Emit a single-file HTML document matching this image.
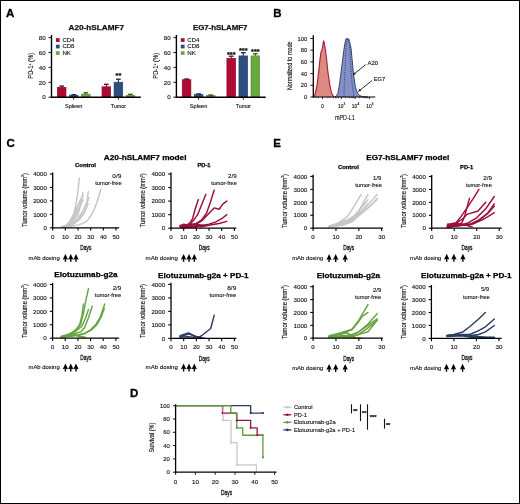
<!DOCTYPE html>
<html><head><meta charset="utf-8"><style>
html,body{margin:0;padding:0;background:#fff;}
svg{display:block;font-family:"Liberation Sans", sans-serif;will-change:transform;}
</style></head><body>
<svg width="520" height="504" viewBox="0 0 520 504">
<rect x="0" y="0" width="520" height="504" fill="#fff"/>
<text x="68.60" y="30.10" font-size="8" text-anchor="start" fill="#111" font-weight="bold" stroke="#111" stroke-width="0.25" textLength="55.40" lengthAdjust="spacingAndGlyphs" >A20-hSLAMF7</text>
<line x1="48.50" y1="97.20" x2="51.50" y2="97.20" stroke="#000" stroke-width="0.9" />
<text x="45.70" y="99.40" font-size="6.2" text-anchor="end" fill="#111" stroke="#111" stroke-width="0.12" >0</text>
<line x1="48.50" y1="82.30" x2="51.50" y2="82.30" stroke="#000" stroke-width="0.9" />
<text x="45.70" y="84.50" font-size="6.2" text-anchor="end" fill="#111" stroke="#111" stroke-width="0.12" >20</text>
<line x1="48.50" y1="67.40" x2="51.50" y2="67.40" stroke="#000" stroke-width="0.9" />
<text x="45.70" y="69.60" font-size="6.2" text-anchor="end" fill="#111" stroke="#111" stroke-width="0.12" >40</text>
<line x1="48.50" y1="52.50" x2="51.50" y2="52.50" stroke="#000" stroke-width="0.9" />
<text x="45.70" y="54.70" font-size="6.2" text-anchor="end" fill="#111" stroke="#111" stroke-width="0.12" >60</text>
<line x1="48.50" y1="37.60" x2="51.50" y2="37.60" stroke="#000" stroke-width="0.9" />
<text x="45.70" y="39.80" font-size="6.2" text-anchor="end" fill="#111" stroke="#111" stroke-width="0.12" >80</text>
<text x="32.90" y="65.80" font-size="6.5" text-anchor="middle" fill="#111" stroke="#111" stroke-width="0.12" textLength="25.80" lengthAdjust="spacingAndGlyphs" transform="rotate(-90 32.90 65.80)" >PD-1<tspan font-size="4" dy="-2.3">+</tspan><tspan dy="2.3"> (%)</tspan></text>
<rect x="55.90" y="38.20" width="3.8" height="3.7" fill="#ad0a35"/>
<text x="62.40" y="41.80" font-size="5.6" text-anchor="start" fill="#111" stroke="#111" stroke-width="0.12" textLength="12.10" lengthAdjust="spacingAndGlyphs" >CD4</text>
<rect x="55.90" y="44.70" width="3.8" height="3.7" fill="#2f4d80"/>
<text x="62.40" y="48.30" font-size="5.6" text-anchor="start" fill="#111" stroke="#111" stroke-width="0.12" textLength="12.10" lengthAdjust="spacingAndGlyphs" >CD8</text>
<rect x="55.90" y="51.20" width="3.8" height="3.7" fill="#6aa83e"/>
<text x="62.40" y="54.80" font-size="5.6" text-anchor="start" fill="#111" stroke="#111" stroke-width="0.12" textLength="8.60" lengthAdjust="spacingAndGlyphs" >NK</text>
<line x1="73.70" y1="97.20" x2="73.70" y2="99.60" stroke="#000" stroke-width="0.9" />
<text x="73.70" y="108.10" font-size="5.6" text-anchor="middle" fill="#111" stroke="#111" stroke-width="0.12" textLength="17.50" lengthAdjust="spacingAndGlyphs" >Spleen</text>
<rect x="57.30" y="87.30" width="8.7" height="9.90" fill="#ad0a35" stroke="#8a0628" stroke-width="0.6"/>
<line x1="61.65" y1="87.30" x2="61.65" y2="86.10" stroke="#5a0418" stroke-width="1.0" />
<line x1="59.30" y1="86.10" x2="64.00" y2="86.10" stroke="#5a0418" stroke-width="1.3" />
<rect x="69.35" y="95.20" width="8.7" height="2.00" fill="#2f4d80" stroke="#22396a" stroke-width="0.6"/>
<line x1="73.70" y1="95.20" x2="73.70" y2="94.70" stroke="#14223e" stroke-width="1.0" />
<line x1="71.35" y1="94.70" x2="76.05" y2="94.70" stroke="#14223e" stroke-width="1.3" />
<rect x="81.40" y="94.20" width="8.7" height="3.00" fill="#6aa83e" stroke="#4f8a2e" stroke-width="0.6"/>
<line x1="85.75" y1="94.20" x2="85.75" y2="92.80" stroke="#2e5418" stroke-width="1.0" />
<line x1="83.40" y1="92.80" x2="88.10" y2="92.80" stroke="#2e5418" stroke-width="1.3" />
<line x1="118.40" y1="97.20" x2="118.40" y2="99.60" stroke="#000" stroke-width="0.9" />
<text x="118.40" y="108.10" font-size="5.6" text-anchor="middle" fill="#111" stroke="#111" stroke-width="0.12" textLength="15.10" lengthAdjust="spacingAndGlyphs" >Tumor</text>
<rect x="102.00" y="86.80" width="8.7" height="10.40" fill="#ad0a35" stroke="#8a0628" stroke-width="0.6"/>
<line x1="106.35" y1="86.80" x2="106.35" y2="84.30" stroke="#5a0418" stroke-width="1.0" />
<line x1="104.00" y1="84.30" x2="108.70" y2="84.30" stroke="#5a0418" stroke-width="1.3" />
<rect x="114.05" y="82.20" width="8.7" height="15.00" fill="#2f4d80" stroke="#22396a" stroke-width="0.6"/>
<line x1="118.40" y1="82.20" x2="118.40" y2="79.20" stroke="#14223e" stroke-width="1.0" />
<line x1="116.05" y1="79.20" x2="120.75" y2="79.20" stroke="#14223e" stroke-width="1.3" />
<text x="118.40" y="78.30" font-size="7.4" text-anchor="middle" fill="#111" font-weight="bold" stroke="#111" stroke-width="0.25" >**</text>
<rect x="126.10" y="95.30" width="8.7" height="1.90" fill="#6aa83e" stroke="#4f8a2e" stroke-width="0.6"/>
<line x1="130.45" y1="95.30" x2="130.45" y2="94.30" stroke="#2e5418" stroke-width="1.0" />
<line x1="128.10" y1="94.30" x2="132.80" y2="94.30" stroke="#2e5418" stroke-width="1.3" />
<line x1="51.50" y1="35.00" x2="51.50" y2="97.90" stroke="#000" stroke-width="1.4" />
<line x1="50.80" y1="97.20" x2="140.80" y2="97.20" stroke="#000" stroke-width="1.4" />
<text x="192.90" y="30.10" font-size="8" text-anchor="start" fill="#111" font-weight="bold" stroke="#111" stroke-width="0.25" textLength="54.60" lengthAdjust="spacingAndGlyphs" >EG7-hSLAMF7</text>
<line x1="173.40" y1="97.20" x2="176.40" y2="97.20" stroke="#000" stroke-width="0.9" />
<text x="170.60" y="99.40" font-size="6.2" text-anchor="end" fill="#111" stroke="#111" stroke-width="0.12" >0</text>
<line x1="173.40" y1="82.30" x2="176.40" y2="82.30" stroke="#000" stroke-width="0.9" />
<text x="170.60" y="84.50" font-size="6.2" text-anchor="end" fill="#111" stroke="#111" stroke-width="0.12" >20</text>
<line x1="173.40" y1="67.40" x2="176.40" y2="67.40" stroke="#000" stroke-width="0.9" />
<text x="170.60" y="69.60" font-size="6.2" text-anchor="end" fill="#111" stroke="#111" stroke-width="0.12" >40</text>
<line x1="173.40" y1="52.50" x2="176.40" y2="52.50" stroke="#000" stroke-width="0.9" />
<text x="170.60" y="54.70" font-size="6.2" text-anchor="end" fill="#111" stroke="#111" stroke-width="0.12" >60</text>
<line x1="173.40" y1="37.60" x2="176.40" y2="37.60" stroke="#000" stroke-width="0.9" />
<text x="170.60" y="39.80" font-size="6.2" text-anchor="end" fill="#111" stroke="#111" stroke-width="0.12" >80</text>
<text x="157.80" y="65.80" font-size="6.5" text-anchor="middle" fill="#111" stroke="#111" stroke-width="0.12" textLength="25.80" lengthAdjust="spacingAndGlyphs" transform="rotate(-90 157.80 65.80)" >PD-1<tspan font-size="4" dy="-2.3">+</tspan><tspan dy="2.3"> (%)</tspan></text>
<rect x="180.80" y="38.20" width="3.8" height="3.7" fill="#ad0a35"/>
<text x="187.30" y="41.80" font-size="5.6" text-anchor="start" fill="#111" stroke="#111" stroke-width="0.12" textLength="12.10" lengthAdjust="spacingAndGlyphs" >CD4</text>
<rect x="180.80" y="44.70" width="3.8" height="3.7" fill="#2f4d80"/>
<text x="187.30" y="48.30" font-size="5.6" text-anchor="start" fill="#111" stroke="#111" stroke-width="0.12" textLength="12.10" lengthAdjust="spacingAndGlyphs" >CD8</text>
<rect x="180.80" y="51.20" width="3.8" height="3.7" fill="#6aa83e"/>
<text x="187.30" y="54.80" font-size="5.6" text-anchor="start" fill="#111" stroke="#111" stroke-width="0.12" textLength="8.60" lengthAdjust="spacingAndGlyphs" >NK</text>
<line x1="198.60" y1="97.20" x2="198.60" y2="99.60" stroke="#000" stroke-width="0.9" />
<text x="198.60" y="108.10" font-size="5.6" text-anchor="middle" fill="#111" stroke="#111" stroke-width="0.12" textLength="17.50" lengthAdjust="spacingAndGlyphs" >Spleen</text>
<rect x="182.20" y="79.70" width="8.7" height="17.50" fill="#ad0a35" stroke="#8a0628" stroke-width="0.6"/>
<line x1="186.55" y1="79.70" x2="186.55" y2="79.00" stroke="#5a0418" stroke-width="1.0" />
<line x1="184.20" y1="79.00" x2="188.90" y2="79.00" stroke="#5a0418" stroke-width="1.3" />
<rect x="194.25" y="94.40" width="8.7" height="2.80" fill="#2f4d80" stroke="#22396a" stroke-width="0.6"/>
<line x1="198.60" y1="94.40" x2="198.60" y2="93.90" stroke="#14223e" stroke-width="1.0" />
<line x1="196.25" y1="93.90" x2="200.95" y2="93.90" stroke="#14223e" stroke-width="1.3" />
<rect x="206.30" y="95.40" width="8.7" height="1.80" fill="#6aa83e" stroke="#4f8a2e" stroke-width="0.6"/>
<line x1="210.65" y1="95.40" x2="210.65" y2="95.00" stroke="#2e5418" stroke-width="1.0" />
<line x1="208.30" y1="95.00" x2="213.00" y2="95.00" stroke="#2e5418" stroke-width="1.3" />
<line x1="243.30" y1="97.20" x2="243.30" y2="99.60" stroke="#000" stroke-width="0.9" />
<text x="243.30" y="108.10" font-size="5.6" text-anchor="middle" fill="#111" stroke="#111" stroke-width="0.12" textLength="15.10" lengthAdjust="spacingAndGlyphs" >Tumor</text>
<rect x="226.90" y="58.30" width="8.7" height="38.90" fill="#ad0a35" stroke="#8a0628" stroke-width="0.6"/>
<line x1="231.25" y1="58.30" x2="231.25" y2="56.20" stroke="#5a0418" stroke-width="1.0" />
<line x1="228.90" y1="56.20" x2="233.60" y2="56.20" stroke="#5a0418" stroke-width="1.3" />
<text x="231.25" y="57.30" font-size="7.4" text-anchor="middle" fill="#111" font-weight="bold" stroke="#111" stroke-width="0.25" >***</text>
<rect x="238.95" y="55.90" width="8.7" height="41.30" fill="#2f4d80" stroke="#22396a" stroke-width="0.6"/>
<line x1="243.30" y1="55.90" x2="243.30" y2="52.70" stroke="#14223e" stroke-width="1.0" />
<line x1="240.95" y1="52.70" x2="245.65" y2="52.70" stroke="#14223e" stroke-width="1.3" />
<text x="243.30" y="53.00" font-size="7.4" text-anchor="middle" fill="#111" font-weight="bold" stroke="#111" stroke-width="0.25" >***</text>
<rect x="251.00" y="55.90" width="8.7" height="41.30" fill="#6aa83e" stroke="#4f8a2e" stroke-width="0.6"/>
<line x1="255.35" y1="55.90" x2="255.35" y2="53.80" stroke="#2e5418" stroke-width="1.0" />
<line x1="253.00" y1="53.80" x2="257.70" y2="53.80" stroke="#2e5418" stroke-width="1.3" />
<text x="255.35" y="54.30" font-size="7.4" text-anchor="middle" fill="#111" font-weight="bold" stroke="#111" stroke-width="0.25" >***</text>
<line x1="176.40" y1="35.00" x2="176.40" y2="97.90" stroke="#000" stroke-width="1.4" />
<line x1="175.70" y1="97.20" x2="265.70" y2="97.20" stroke="#000" stroke-width="1.4" />
<path d="M314.30,97.00 L315.80,91.10 L317.10,84.80 L318.60,72.10 L320.00,59.40 L321.00,52.00 L321.80,50.50 L322.60,47.00 L323.20,42.50 L323.70,40.80 L324.20,43.00 L324.60,44.50 L325.10,48.00 L325.60,51.00 L326.60,59.40 L327.90,72.10 L329.80,84.80 L331.00,91.10 L332.50,95.00 L334.20,97.00 Z" fill="#dd8a80" stroke="none"/>
<path d="M314.30,97.00 L315.80,91.10 L317.10,84.80 L318.60,72.10 L320.00,59.40 L321.00,52.00 L321.80,50.50 L322.60,47.00 L323.20,42.50 L323.70,40.80 L324.20,43.00 L324.60,44.50 L325.10,48.00 L325.60,51.00 L326.60,59.40 L327.90,72.10 L329.80,84.80 L331.00,91.10 L332.50,95.00 L334.20,97.00" fill="none" stroke="#a8183a" stroke-width="1.1" stroke-linejoin="round"/>
<path d="M335.00,97.00 L336.50,95.50 L337.90,93.30 L339.20,86.40 L340.90,73.30 L342.60,60.20 L344.00,49.00 L344.80,44.00 L345.50,40.50 L346.20,38.60 L346.90,39.60 L347.50,38.30 L348.20,39.40 L348.80,38.80 L349.50,41.50 L350.30,45.00 L351.00,48.00 L352.20,60.20 L353.40,73.30 L355.30,86.40 L356.50,90.50 L357.80,93.50 L359.50,95.50 L362.50,96.50 L368.00,97.00 Z" fill="#8590c6" stroke="none"/>
<path d="M335.00,97.00 L336.50,95.50 L337.90,93.30 L339.20,86.40 L340.90,73.30 L342.60,60.20 L344.00,49.00 L344.80,44.00 L345.50,40.50 L346.20,38.60 L346.90,39.60 L347.50,38.30 L348.20,39.40 L348.80,38.80 L349.50,41.50 L350.30,45.00 L351.00,48.00 L352.20,60.20 L353.40,73.30 L355.30,86.40 L356.50,90.50 L357.80,93.50 L359.50,95.50 L362.50,96.50 L368.00,97.00" fill="none" stroke="#26356a" stroke-width="0.9" stroke-linejoin="round"/>
<path d="M343.80,97.00 L344.00,93.70 L344.30,84.80 L344.90,72.10 L345.50,59.40 L346.20,46.70 L347.00,41.00 L348.00,40.00 L349.00,42.00 L349.70,46.70 L350.20,59.40 L351.00,72.10 L352.30,84.80 L353.50,93.70 L354.00,97.00" fill="none" stroke="#26356a" stroke-width="0.9" stroke-dasharray="1.1,1.3"/>
<line x1="313.30" y1="35.20" x2="313.30" y2="97.60" stroke="#000" stroke-width="1.3" />
<line x1="312.70" y1="97.00" x2="375.30" y2="97.00" stroke="#000" stroke-width="1.2" />
<line x1="310.40" y1="97.00" x2="313.30" y2="97.00" stroke="#000" stroke-width="0.9" />
<text x="307.20" y="99.10" font-size="5.8" text-anchor="end" fill="#111" stroke="#111" stroke-width="0.12" >0</text>
<line x1="310.40" y1="85.30" x2="313.30" y2="85.30" stroke="#000" stroke-width="0.9" />
<text x="307.20" y="87.40" font-size="5.8" text-anchor="end" fill="#111" stroke="#111" stroke-width="0.12" >20</text>
<line x1="310.40" y1="73.60" x2="313.30" y2="73.60" stroke="#000" stroke-width="0.9" />
<text x="307.20" y="75.70" font-size="5.8" text-anchor="end" fill="#111" stroke="#111" stroke-width="0.12" >40</text>
<line x1="310.40" y1="61.90" x2="313.30" y2="61.90" stroke="#000" stroke-width="0.9" />
<text x="307.20" y="64.00" font-size="5.8" text-anchor="end" fill="#111" stroke="#111" stroke-width="0.12" >60</text>
<line x1="310.40" y1="50.20" x2="313.30" y2="50.20" stroke="#000" stroke-width="0.9" />
<text x="307.20" y="52.30" font-size="5.8" text-anchor="end" fill="#111" stroke="#111" stroke-width="0.12" >80</text>
<line x1="310.40" y1="38.50" x2="313.30" y2="38.50" stroke="#000" stroke-width="0.9" />
<text x="307.20" y="40.60" font-size="5.8" text-anchor="end" fill="#111" stroke="#111" stroke-width="0.12" >100</text>
<line x1="322.60" y1="97.00" x2="322.60" y2="99.00" stroke="#000" stroke-width="0.8" />
<line x1="341.40" y1="97.00" x2="341.40" y2="99.00" stroke="#000" stroke-width="0.8" />
<line x1="355.20" y1="97.00" x2="355.20" y2="99.00" stroke="#000" stroke-width="0.8" />
<line x1="369.60" y1="97.00" x2="369.60" y2="99.00" stroke="#000" stroke-width="0.8" />
<line x1="316.50" y1="97.00" x2="316.50" y2="98.20" stroke="#000" stroke-width="0.6" />
<line x1="318.50" y1="97.00" x2="318.50" y2="98.20" stroke="#000" stroke-width="0.6" />
<line x1="327.00" y1="97.00" x2="327.00" y2="98.20" stroke="#000" stroke-width="0.6" />
<line x1="329.00" y1="97.00" x2="329.00" y2="98.20" stroke="#000" stroke-width="0.6" />
<line x1="333.50" y1="97.00" x2="333.50" y2="98.20" stroke="#000" stroke-width="0.6" />
<line x1="335.50" y1="97.00" x2="335.50" y2="98.20" stroke="#000" stroke-width="0.6" />
<line x1="337.00" y1="97.00" x2="337.00" y2="98.20" stroke="#000" stroke-width="0.6" />
<line x1="338.50" y1="97.00" x2="338.50" y2="98.20" stroke="#000" stroke-width="0.6" />
<line x1="345.50" y1="97.00" x2="345.50" y2="98.20" stroke="#000" stroke-width="0.6" />
<line x1="347.80" y1="97.00" x2="347.80" y2="98.20" stroke="#000" stroke-width="0.6" />
<line x1="349.50" y1="97.00" x2="349.50" y2="98.20" stroke="#000" stroke-width="0.6" />
<line x1="351.00" y1="97.00" x2="351.00" y2="98.20" stroke="#000" stroke-width="0.6" />
<line x1="352.30" y1="97.00" x2="352.30" y2="98.20" stroke="#000" stroke-width="0.6" />
<line x1="353.50" y1="97.00" x2="353.50" y2="98.20" stroke="#000" stroke-width="0.6" />
<line x1="359.50" y1="97.00" x2="359.50" y2="98.20" stroke="#000" stroke-width="0.6" />
<line x1="362.00" y1="97.00" x2="362.00" y2="98.20" stroke="#000" stroke-width="0.6" />
<line x1="364.00" y1="97.00" x2="364.00" y2="98.20" stroke="#000" stroke-width="0.6" />
<line x1="365.50" y1="97.00" x2="365.50" y2="98.20" stroke="#000" stroke-width="0.6" />
<line x1="366.80" y1="97.00" x2="366.80" y2="98.20" stroke="#000" stroke-width="0.6" />
<line x1="368.00" y1="97.00" x2="368.00" y2="98.20" stroke="#000" stroke-width="0.6" />
<text x="322.50" y="108.00" font-size="5.2" text-anchor="middle" fill="#111" stroke="#111" stroke-width="0.12" >0</text>
<text x="338.00" y="108.00" font-size="5.2" text-anchor="start" fill="#111" stroke="#111" stroke-width="0.12" textLength="5.40" lengthAdjust="spacingAndGlyphs" >10</text>
<text x="343.60" y="105.40" font-size="3.2" text-anchor="start" fill="#111" stroke="#111" stroke-width="0.12" >3</text>
<text x="351.80" y="108.00" font-size="5.2" text-anchor="start" fill="#111" stroke="#111" stroke-width="0.12" textLength="5.40" lengthAdjust="spacingAndGlyphs" >10</text>
<text x="357.40" y="105.40" font-size="3.2" text-anchor="start" fill="#111" stroke="#111" stroke-width="0.12" >4</text>
<text x="366.20" y="108.00" font-size="5.2" text-anchor="start" fill="#111" stroke="#111" stroke-width="0.12" textLength="5.40" lengthAdjust="spacingAndGlyphs" >10</text>
<text x="371.80" y="105.40" font-size="3.2" text-anchor="start" fill="#111" stroke="#111" stroke-width="0.12" >5</text>
<text x="334.90" y="119.90" font-size="7.0" text-anchor="start" fill="#111" stroke="#111" stroke-width="0.12" textLength="19.80" lengthAdjust="spacingAndGlyphs" >mPD-L1</text>
<text x="291.60" y="65.80" font-size="7.0" text-anchor="middle" fill="#111" stroke="#111" stroke-width="0.12" textLength="48.50" lengthAdjust="spacingAndGlyphs" transform="rotate(-90 291.60 65.80)" >Normalized to mode</text>
<line x1="365.80" y1="64.50" x2="352.90" y2="75.00" stroke="#111" stroke-width="0.9" />
<path d="M352.90,75.00 L354.10,72.35 L355.74,74.37 Z" fill="#111"/>
<line x1="372.10" y1="80.50" x2="358.40" y2="91.40" stroke="#111" stroke-width="0.9" />
<path d="M358.40,91.40 L359.63,88.76 L361.24,90.80 Z" fill="#111"/>
<text x="367.50" y="64.90" font-size="5.6" text-anchor="start" fill="#111" stroke="#111" stroke-width="0.12" textLength="10.50" lengthAdjust="spacingAndGlyphs" >A20</text>
<text x="373.80" y="80.50" font-size="5.6" text-anchor="start" fill="#111" stroke="#111" stroke-width="0.12" textLength="11.40" lengthAdjust="spacingAndGlyphs" >EG7</text>
<text x="6.10" y="16.90" font-size="11.5" text-anchor="start" fill="#000" font-weight="bold" stroke="#000" stroke-width="0.3">A</text>
<text x="273.30" y="17.00" font-size="11.5" text-anchor="start" fill="#000" font-weight="bold" stroke="#000" stroke-width="0.3">B</text>
<text x="6.60" y="146.80" font-size="11.5" text-anchor="start" fill="#000" font-weight="bold" stroke="#000" stroke-width="0.3">C</text>
<text x="273.30" y="146.80" font-size="11.5" text-anchor="start" fill="#000" font-weight="bold" stroke="#000" stroke-width="0.3">E</text>
<text x="129.90" y="396.80" font-size="11.5" text-anchor="start" fill="#000" font-weight="bold" stroke="#000" stroke-width="0.3">D</text>
<polyline points="61.56,227.13 66.63,225.11 70.42,221.75 72.96,217.58 75.74,205.74 77.64,193.77 79.29,178.30" fill="none" stroke="#c6c6c6" stroke-width="1.45" stroke-linejoin="round" stroke-linecap="round" />
<polyline points="61.56,227.13 67.89,225.11 72.96,221.08 77.64,215.29 80.55,205.74 82.96,192.70" fill="none" stroke="#c6c6c6" stroke-width="1.45" stroke-linejoin="round" stroke-linecap="round" />
<polyline points="61.56,227.13 67.89,225.78 74.22,222.42 78.78,218.79 83.59,210.58 87.14,201.03 88.27,191.49" fill="none" stroke="#c6c6c6" stroke-width="1.45" stroke-linejoin="round" stroke-linecap="round" />
<polyline points="61.56,227.13 66.63,225.78 71.69,221.75 75.49,215.69 79.29,207.62 81.82,202.25 83.59,199.82" fill="none" stroke="#c6c6c6" stroke-width="1.45" stroke-linejoin="round" stroke-linecap="round" />
<polyline points="61.56,227.13 67.89,225.78 72.96,223.09 78.02,218.39 83.08,210.31 86.88,203.59 88.91,197.54" fill="none" stroke="#c6c6c6" stroke-width="1.45" stroke-linejoin="round" stroke-linecap="round" />
<polyline points="61.56,227.13 65.36,225.78 69.16,222.42 72.96,215.69 76.12,208.97 79.29,202.25 83.08,195.52" fill="none" stroke="#c6c6c6" stroke-width="1.45" stroke-linejoin="round" stroke-linecap="round" />
<polyline points="61.56,227.13 67.89,226.46 74.22,223.77 79.29,219.73 84.35,213.00 88.15,203.59" fill="none" stroke="#c6c6c6" stroke-width="1.45" stroke-linejoin="round" stroke-linecap="round" />
<polyline points="61.56,227.13 70.42,226.46 78.78,224.84 84.35,222.69 88.27,219.46 91.31,215.02 94.35,208.97 97.64,200.23 100.81,189.20" fill="none" stroke="#c6c6c6" stroke-width="1.45" stroke-linejoin="round" stroke-linecap="round" />
<polyline points="61.56,227.13 66.63,225.78 71.69,221.08 75.49,213.00 78.65,204.94 81.82,196.87" fill="none" stroke="#c6c6c6" stroke-width="1.45" stroke-linejoin="round" stroke-linecap="round" />
<line x1="52.70" y1="172.40" x2="52.70" y2="228.40" stroke="#000" stroke-width="1.3" />
<line x1="52.10" y1="227.80" x2="119.10" y2="227.80" stroke="#000" stroke-width="1.3" />
<line x1="49.90" y1="227.80" x2="52.70" y2="227.80" stroke="#000" stroke-width="1.1" />
<text x="46.90" y="230.00" font-size="6.2" text-anchor="end" fill="#111" stroke="#111" stroke-width="0.12" >0</text>
<line x1="49.90" y1="214.35" x2="52.70" y2="214.35" stroke="#000" stroke-width="1.1" />
<text x="46.90" y="216.55" font-size="6.2" text-anchor="end" fill="#111" stroke="#111" stroke-width="0.12" >1000</text>
<line x1="49.90" y1="200.90" x2="52.70" y2="200.90" stroke="#000" stroke-width="1.1" />
<text x="46.90" y="203.10" font-size="6.2" text-anchor="end" fill="#111" stroke="#111" stroke-width="0.12" >2000</text>
<line x1="49.90" y1="187.45" x2="52.70" y2="187.45" stroke="#000" stroke-width="1.1" />
<text x="46.90" y="189.65" font-size="6.2" text-anchor="end" fill="#111" stroke="#111" stroke-width="0.12" >3000</text>
<line x1="49.90" y1="174.00" x2="52.70" y2="174.00" stroke="#000" stroke-width="1.1" />
<text x="46.90" y="176.20" font-size="6.2" text-anchor="end" fill="#111" stroke="#111" stroke-width="0.12" >4000</text>
<line x1="52.70" y1="227.80" x2="52.70" y2="230.60" stroke="#000" stroke-width="1.1" />
<text x="52.70" y="238.60" font-size="6.2" text-anchor="middle" fill="#111" stroke="#111" stroke-width="0.12" >0</text>
<line x1="65.36" y1="227.80" x2="65.36" y2="230.60" stroke="#000" stroke-width="1.1" />
<text x="65.36" y="238.60" font-size="6.2" text-anchor="middle" fill="#111" stroke="#111" stroke-width="0.12" >10</text>
<line x1="78.02" y1="227.80" x2="78.02" y2="230.60" stroke="#000" stroke-width="1.1" />
<text x="78.02" y="238.60" font-size="6.2" text-anchor="middle" fill="#111" stroke="#111" stroke-width="0.12" >20</text>
<line x1="90.68" y1="227.80" x2="90.68" y2="230.60" stroke="#000" stroke-width="1.1" />
<text x="90.68" y="238.60" font-size="6.2" text-anchor="middle" fill="#111" stroke="#111" stroke-width="0.12" >30</text>
<line x1="103.34" y1="227.80" x2="103.34" y2="230.60" stroke="#000" stroke-width="1.1" />
<text x="103.34" y="238.60" font-size="6.2" text-anchor="middle" fill="#111" stroke="#111" stroke-width="0.12" >40</text>
<line x1="116.00" y1="227.80" x2="116.00" y2="230.60" stroke="#000" stroke-width="1.1" />
<text x="116.00" y="238.60" font-size="6.2" text-anchor="middle" fill="#111" stroke="#111" stroke-width="0.12" >50</text>
<text x="80.30" y="249.50" font-size="7.3" text-anchor="start" fill="#111" stroke="#111" stroke-width="0.12" textLength="11.00" lengthAdjust="spacingAndGlyphs" style="stroke-width:0.3">Days</text>
<text x="26.80" y="200.10" font-size="6.9" text-anchor="middle" fill="#111" stroke="#111" stroke-width="0.12" textLength="54.00" lengthAdjust="spacingAndGlyphs" transform="rotate(-90 26.80 200.10)" >Tumor volume (mm<tspan font-size="4" dy="-2.6">3</tspan><tspan dy="2.6">)</tspan></text>
<text x="75.10" y="167.00" font-size="5.9" text-anchor="start" fill="#000" font-weight="bold" stroke="#000" stroke-width="0.25" textLength="20.80" lengthAdjust="spacingAndGlyphs" >Control</text>
<text x="112.30" y="177.60" font-size="5.6" text-anchor="start" fill="#111" stroke="#111" stroke-width="0.12" textLength="9.00" lengthAdjust="spacingAndGlyphs" >0/9</text>
<text x="95.20" y="184.50" font-size="5.6" text-anchor="start" fill="#111" stroke="#111" stroke-width="0.12" textLength="26.40" lengthAdjust="spacingAndGlyphs" >tumor-free</text>
<text x="28.50" y="259.60" font-size="6.1" text-anchor="start" fill="#111" stroke="#111" stroke-width="0.12" textLength="31.20" lengthAdjust="spacingAndGlyphs" >mAb dosing</text>
<path d="M65.40,253.90 L68.10,259.70 L66.10,259.10 L66.10,261.80 L64.70,261.80 L64.70,259.10 L62.70,259.70 Z" fill="#000"/>
<path d="M70.80,253.90 L73.50,259.70 L71.50,259.10 L71.50,261.80 L70.10,261.80 L70.10,259.10 L68.10,259.70 Z" fill="#000"/>
<path d="M76.00,253.90 L78.70,259.70 L76.70,259.10 L76.70,261.80 L75.30,261.80 L75.30,259.10 L73.30,259.70 Z" fill="#000"/>
<polyline points="181.14,226.84 186.22,225.49 190.02,222.78 192.56,218.72 195.09,209.23 198.26,199.75" fill="none" stroke="#9c0f38" stroke-width="1.45" stroke-linejoin="round" stroke-linecap="round" />
<polyline points="181.14,226.84 186.22,225.49 190.02,224.13 193.82,220.07 197.63,214.65 201.43,205.16 205.87,194.32" fill="none" stroke="#9c0f38" stroke-width="1.45" stroke-linejoin="round" stroke-linecap="round" />
<polyline points="181.14,226.84 188.75,225.49 196.36,223.46 201.43,220.07 206.50,213.29 210.31,202.45 214.11,190.26" fill="none" stroke="#9c0f38" stroke-width="1.45" stroke-linejoin="round" stroke-linecap="round" />
<polyline points="181.14,226.84 188.75,226.17 196.36,224.13 202.70,220.07 209.04,213.29 214.11,207.88 219.18,209.23 222.99,203.81 226.79,201.10" fill="none" stroke="#9c0f38" stroke-width="1.45" stroke-linejoin="round" stroke-linecap="round" />
<polyline points="181.14,227.52 191.29,226.84 201.43,225.49 209.04,224.13 215.38,222.10 221.72,218.72 226.79,214.65" fill="none" stroke="#9c0f38" stroke-width="1.45" stroke-linejoin="round" stroke-linecap="round" />
<polyline points="181.14,227.52 193.82,226.84 203.97,226.17 211.58,224.81 219.18,223.46 226.79,221.42" fill="none" stroke="#9c0f38" stroke-width="1.45" stroke-linejoin="round" stroke-linecap="round" />
<polyline points="181.14,226.17 186.22,224.81 191.29,224.13 196.36,225.49 201.43,226.84" fill="none" stroke="#9c0f38" stroke-width="1.45" stroke-linejoin="round" stroke-linecap="round" />
<polyline points="179.88,225.49 183.68,224.81 187.48,225.49 191.29,226.17 196.36,227.52" fill="none" stroke="#9c0f38" stroke-width="1.45" stroke-linejoin="round" stroke-linecap="round" />
<polyline points="179.88,226.84 183.68,224.13 188.75,225.49 193.82,224.13 198.90,224.81 203.97,225.49" fill="none" stroke="#9c0f38" stroke-width="1.45" stroke-linejoin="round" stroke-linecap="round" />
<line x1="171.00" y1="172.40" x2="171.00" y2="228.80" stroke="#000" stroke-width="1.3" />
<line x1="170.40" y1="228.20" x2="236.30" y2="228.20" stroke="#000" stroke-width="1.3" />
<line x1="168.20" y1="228.20" x2="171.00" y2="228.20" stroke="#000" stroke-width="1.1" />
<text x="165.20" y="230.40" font-size="6.2" text-anchor="end" fill="#111" stroke="#111" stroke-width="0.12" >0</text>
<line x1="168.20" y1="214.65" x2="171.00" y2="214.65" stroke="#000" stroke-width="1.1" />
<text x="165.20" y="216.85" font-size="6.2" text-anchor="end" fill="#111" stroke="#111" stroke-width="0.12" >1000</text>
<line x1="168.20" y1="201.10" x2="171.00" y2="201.10" stroke="#000" stroke-width="1.1" />
<text x="165.20" y="203.30" font-size="6.2" text-anchor="end" fill="#111" stroke="#111" stroke-width="0.12" >2000</text>
<line x1="168.20" y1="187.55" x2="171.00" y2="187.55" stroke="#000" stroke-width="1.1" />
<text x="165.20" y="189.75" font-size="6.2" text-anchor="end" fill="#111" stroke="#111" stroke-width="0.12" >3000</text>
<line x1="168.20" y1="174.00" x2="171.00" y2="174.00" stroke="#000" stroke-width="1.1" />
<text x="165.20" y="176.20" font-size="6.2" text-anchor="end" fill="#111" stroke="#111" stroke-width="0.12" >4000</text>
<line x1="171.00" y1="228.20" x2="171.00" y2="231.00" stroke="#000" stroke-width="1.1" />
<text x="171.00" y="239.00" font-size="6.2" text-anchor="middle" fill="#111" stroke="#111" stroke-width="0.12" >0</text>
<line x1="183.68" y1="228.20" x2="183.68" y2="231.00" stroke="#000" stroke-width="1.1" />
<text x="183.68" y="239.00" font-size="6.2" text-anchor="middle" fill="#111" stroke="#111" stroke-width="0.12" >10</text>
<line x1="196.36" y1="228.20" x2="196.36" y2="231.00" stroke="#000" stroke-width="1.1" />
<text x="196.36" y="239.00" font-size="6.2" text-anchor="middle" fill="#111" stroke="#111" stroke-width="0.12" >20</text>
<line x1="209.04" y1="228.20" x2="209.04" y2="231.00" stroke="#000" stroke-width="1.1" />
<text x="209.04" y="239.00" font-size="6.2" text-anchor="middle" fill="#111" stroke="#111" stroke-width="0.12" >30</text>
<line x1="221.72" y1="228.20" x2="221.72" y2="231.00" stroke="#000" stroke-width="1.1" />
<text x="221.72" y="239.00" font-size="6.2" text-anchor="middle" fill="#111" stroke="#111" stroke-width="0.12" >40</text>
<line x1="234.40" y1="228.20" x2="234.40" y2="231.00" stroke="#000" stroke-width="1.1" />
<text x="234.40" y="239.00" font-size="6.2" text-anchor="middle" fill="#111" stroke="#111" stroke-width="0.12" >50</text>
<text x="198.70" y="249.80" font-size="7.3" text-anchor="start" fill="#111" stroke="#111" stroke-width="0.12" textLength="11.00" lengthAdjust="spacingAndGlyphs" style="stroke-width:0.3">Days</text>
<text x="145.40" y="200.30" font-size="6.9" text-anchor="middle" fill="#111" stroke="#111" stroke-width="0.12" textLength="54.00" lengthAdjust="spacingAndGlyphs" transform="rotate(-90 145.40 200.30)" >Tumor volume (mm<tspan font-size="4" dy="-2.6">3</tspan><tspan dy="2.6">)</tspan></text>
<text x="197.40" y="167.30" font-size="5.9" text-anchor="start" fill="#000" font-weight="bold" stroke="#000" stroke-width="0.25" textLength="13.20" lengthAdjust="spacingAndGlyphs" >PD-1</text>
<text x="228.10" y="177.60" font-size="5.6" text-anchor="start" fill="#111" stroke="#111" stroke-width="0.12" textLength="8.50" lengthAdjust="spacingAndGlyphs" >2/9</text>
<text x="211.20" y="184.50" font-size="5.6" text-anchor="start" fill="#111" stroke="#111" stroke-width="0.12" textLength="25.60" lengthAdjust="spacingAndGlyphs" >tumor-free</text>
<text x="145.60" y="259.60" font-size="6.1" text-anchor="start" fill="#111" stroke="#111" stroke-width="0.12" textLength="32.30" lengthAdjust="spacingAndGlyphs" >mAb dosing</text>
<path d="M183.60,253.90 L186.30,259.70 L184.30,259.10 L184.30,261.80 L182.90,261.80 L182.90,259.10 L180.90,259.70 Z" fill="#000"/>
<path d="M189.00,253.90 L191.70,259.70 L189.70,259.10 L189.70,261.80 L188.30,261.80 L188.30,259.10 L186.30,259.70 Z" fill="#000"/>
<path d="M194.30,253.90 L197.00,259.70 L195.00,259.10 L195.00,261.80 L193.60,261.80 L193.60,259.10 L191.60,259.70 Z" fill="#000"/>
<polyline points="61.46,336.86 67.79,334.84 72.86,332.83 76.40,330.90 80.71,324.31 83.49,313.40 85.64,301.44 88.43,288.80" fill="none" stroke="#67a443" stroke-width="1.45" stroke-linejoin="round" stroke-linecap="round" />
<polyline points="61.46,336.86 67.79,334.84 72.86,332.16 76.65,328.80 79.69,324.31 81.84,315.61 83.49,304.10" fill="none" stroke="#67a443" stroke-width="1.45" stroke-linejoin="round" stroke-linecap="round" />
<polyline points="61.46,336.86 69.06,335.51 75.39,333.50 80.71,331.89 84.63,327.59 88.43,317.79 92.23,306.30" fill="none" stroke="#67a443" stroke-width="1.45" stroke-linejoin="round" stroke-linecap="round" />
<polyline points="61.46,336.86 67.79,334.84 72.86,332.16 77.92,329.47 81.84,326.52 85.64,317.79 88.43,309.60" fill="none" stroke="#67a443" stroke-width="1.45" stroke-linejoin="round" stroke-linecap="round" />
<polyline points="61.46,336.86 70.32,336.19 77.92,334.84 84.00,333.60 90.58,329.80 96.02,324.31 100.45,316.72 104.76,304.10" fill="none" stroke="#67a443" stroke-width="1.45" stroke-linejoin="round" stroke-linecap="round" />
<polyline points="61.46,336.86 70.32,336.19 77.92,335.25 84.25,333.77 91.21,330.14 96.91,324.77 101.34,316.72 104.25,308.53" fill="none" stroke="#67a443" stroke-width="1.45" stroke-linejoin="round" stroke-linecap="round" />
<polyline points="61.46,337.53 67.79,336.19 74.12,334.84 80.45,336.19 85.52,337.53" fill="none" stroke="#67a443" stroke-width="1.45" stroke-linejoin="round" stroke-linecap="round" />
<polyline points="61.46,336.19 66.53,334.84 71.59,334.17 76.65,335.51 80.45,336.86" fill="none" stroke="#67a443" stroke-width="1.45" stroke-linejoin="round" stroke-linecap="round" />
<line x1="52.60" y1="282.90" x2="52.60" y2="338.80" stroke="#000" stroke-width="1.3" />
<line x1="52.00" y1="338.20" x2="119.10" y2="338.20" stroke="#000" stroke-width="1.3" />
<line x1="49.80" y1="338.20" x2="52.60" y2="338.20" stroke="#000" stroke-width="1.1" />
<text x="46.80" y="340.40" font-size="6.2" text-anchor="end" fill="#111" stroke="#111" stroke-width="0.12" >0</text>
<line x1="49.80" y1="324.77" x2="52.60" y2="324.77" stroke="#000" stroke-width="1.1" />
<text x="46.80" y="326.97" font-size="6.2" text-anchor="end" fill="#111" stroke="#111" stroke-width="0.12" >1000</text>
<line x1="49.80" y1="311.35" x2="52.60" y2="311.35" stroke="#000" stroke-width="1.1" />
<text x="46.80" y="313.55" font-size="6.2" text-anchor="end" fill="#111" stroke="#111" stroke-width="0.12" >2000</text>
<line x1="49.80" y1="297.93" x2="52.60" y2="297.93" stroke="#000" stroke-width="1.1" />
<text x="46.80" y="300.12" font-size="6.2" text-anchor="end" fill="#111" stroke="#111" stroke-width="0.12" >3000</text>
<line x1="49.80" y1="284.50" x2="52.60" y2="284.50" stroke="#000" stroke-width="1.1" />
<text x="46.80" y="286.70" font-size="6.2" text-anchor="end" fill="#111" stroke="#111" stroke-width="0.12" >4000</text>
<line x1="52.60" y1="338.20" x2="52.60" y2="341.00" stroke="#000" stroke-width="1.1" />
<text x="52.60" y="349.00" font-size="6.2" text-anchor="middle" fill="#111" stroke="#111" stroke-width="0.12" >0</text>
<line x1="65.26" y1="338.20" x2="65.26" y2="341.00" stroke="#000" stroke-width="1.1" />
<text x="65.26" y="349.00" font-size="6.2" text-anchor="middle" fill="#111" stroke="#111" stroke-width="0.12" >10</text>
<line x1="77.92" y1="338.20" x2="77.92" y2="341.00" stroke="#000" stroke-width="1.1" />
<text x="77.92" y="349.00" font-size="6.2" text-anchor="middle" fill="#111" stroke="#111" stroke-width="0.12" >20</text>
<line x1="90.58" y1="338.20" x2="90.58" y2="341.00" stroke="#000" stroke-width="1.1" />
<text x="90.58" y="349.00" font-size="6.2" text-anchor="middle" fill="#111" stroke="#111" stroke-width="0.12" >30</text>
<line x1="103.24" y1="338.20" x2="103.24" y2="341.00" stroke="#000" stroke-width="1.1" />
<text x="103.24" y="349.00" font-size="6.2" text-anchor="middle" fill="#111" stroke="#111" stroke-width="0.12" >40</text>
<line x1="115.90" y1="338.20" x2="115.90" y2="341.00" stroke="#000" stroke-width="1.1" />
<text x="115.90" y="349.00" font-size="6.2" text-anchor="middle" fill="#111" stroke="#111" stroke-width="0.12" >50</text>
<text x="80.30" y="360.40" font-size="7.3" text-anchor="start" fill="#111" stroke="#111" stroke-width="0.12" textLength="11.00" lengthAdjust="spacingAndGlyphs" style="stroke-width:0.3">Days</text>
<text x="26.80" y="311.00" font-size="6.9" text-anchor="middle" fill="#111" stroke="#111" stroke-width="0.12" textLength="54.00" lengthAdjust="spacingAndGlyphs" transform="rotate(-90 26.80 311.00)" >Tumor volume (mm<tspan font-size="4" dy="-2.6">3</tspan><tspan dy="2.6">)</tspan></text>
<text x="54.30" y="277.30" font-size="7.4" text-anchor="start" fill="#000" font-weight="bold" stroke="#000" stroke-width="0.25" textLength="63.20" lengthAdjust="spacingAndGlyphs" >Elotuzumab-g2a</text>
<text x="112.70" y="290.00" font-size="5.6" text-anchor="start" fill="#111" stroke="#111" stroke-width="0.12" textLength="8.50" lengthAdjust="spacingAndGlyphs" >2/9</text>
<text x="94.80" y="297.10" font-size="5.6" text-anchor="start" fill="#111" stroke="#111" stroke-width="0.12" textLength="26.40" lengthAdjust="spacingAndGlyphs" >tumor-free</text>
<text x="28.50" y="369.20" font-size="6.1" text-anchor="start" fill="#111" stroke="#111" stroke-width="0.12" textLength="31.20" lengthAdjust="spacingAndGlyphs" >mAb dosing</text>
<path d="M65.40,363.50 L68.10,369.30 L66.10,368.70 L66.10,371.40 L64.70,371.40 L64.70,368.70 L62.70,369.30 Z" fill="#000"/>
<path d="M70.80,363.50 L73.50,369.30 L71.50,368.70 L71.50,371.40 L70.10,371.40 L70.10,368.70 L68.10,369.30 Z" fill="#000"/>
<path d="M76.00,363.50 L78.70,369.30 L76.70,368.70 L76.70,371.40 L75.30,371.40 L75.30,368.70 L73.30,369.30 Z" fill="#000"/>
<polyline points="180.13,335.70 183.68,334.35 188.50,333.00 192.56,335.02 196.74,336.78 199.53,336.78 202.45,335.02 210.69,328.54 214.24,315.18" fill="none" stroke="#2a3c64" stroke-width="1.45" stroke-linejoin="round" stroke-linecap="round" />
<polyline points="179.88,337.05 183.68,335.43 188.75,333.94 192.56,335.43 196.36,337.05 201.43,337.72 205.24,338.40" fill="none" stroke="#2a3c64" stroke-width="1.45" stroke-linejoin="round" stroke-linecap="round" />
<polyline points="179.88,337.05 188.75,336.78 196.36,337.72 201.43,338.40" fill="none" stroke="#2a3c64" stroke-width="1.45" stroke-linejoin="round" stroke-linecap="round" />
<line x1="171.00" y1="282.80" x2="171.00" y2="339.00" stroke="#000" stroke-width="1.3" />
<line x1="170.40" y1="338.40" x2="236.30" y2="338.40" stroke="#000" stroke-width="1.3" />
<line x1="168.20" y1="338.40" x2="171.00" y2="338.40" stroke="#000" stroke-width="1.1" />
<text x="165.20" y="340.60" font-size="6.2" text-anchor="end" fill="#111" stroke="#111" stroke-width="0.12" >0</text>
<line x1="168.20" y1="324.90" x2="171.00" y2="324.90" stroke="#000" stroke-width="1.1" />
<text x="165.20" y="327.10" font-size="6.2" text-anchor="end" fill="#111" stroke="#111" stroke-width="0.12" >1000</text>
<line x1="168.20" y1="311.40" x2="171.00" y2="311.40" stroke="#000" stroke-width="1.1" />
<text x="165.20" y="313.60" font-size="6.2" text-anchor="end" fill="#111" stroke="#111" stroke-width="0.12" >2000</text>
<line x1="168.20" y1="297.90" x2="171.00" y2="297.90" stroke="#000" stroke-width="1.1" />
<text x="165.20" y="300.10" font-size="6.2" text-anchor="end" fill="#111" stroke="#111" stroke-width="0.12" >3000</text>
<line x1="168.20" y1="284.40" x2="171.00" y2="284.40" stroke="#000" stroke-width="1.1" />
<text x="165.20" y="286.60" font-size="6.2" text-anchor="end" fill="#111" stroke="#111" stroke-width="0.12" >4000</text>
<line x1="171.00" y1="338.40" x2="171.00" y2="341.20" stroke="#000" stroke-width="1.1" />
<text x="171.00" y="349.20" font-size="6.2" text-anchor="middle" fill="#111" stroke="#111" stroke-width="0.12" >0</text>
<line x1="183.68" y1="338.40" x2="183.68" y2="341.20" stroke="#000" stroke-width="1.1" />
<text x="183.68" y="349.20" font-size="6.2" text-anchor="middle" fill="#111" stroke="#111" stroke-width="0.12" >10</text>
<line x1="196.36" y1="338.40" x2="196.36" y2="341.20" stroke="#000" stroke-width="1.1" />
<text x="196.36" y="349.20" font-size="6.2" text-anchor="middle" fill="#111" stroke="#111" stroke-width="0.12" >20</text>
<line x1="209.04" y1="338.40" x2="209.04" y2="341.20" stroke="#000" stroke-width="1.1" />
<text x="209.04" y="349.20" font-size="6.2" text-anchor="middle" fill="#111" stroke="#111" stroke-width="0.12" >30</text>
<line x1="221.72" y1="338.40" x2="221.72" y2="341.20" stroke="#000" stroke-width="1.1" />
<text x="221.72" y="349.20" font-size="6.2" text-anchor="middle" fill="#111" stroke="#111" stroke-width="0.12" >40</text>
<line x1="234.40" y1="338.40" x2="234.40" y2="341.20" stroke="#000" stroke-width="1.1" />
<text x="234.40" y="349.20" font-size="6.2" text-anchor="middle" fill="#111" stroke="#111" stroke-width="0.12" >50</text>
<text x="198.70" y="360.60" font-size="7.3" text-anchor="start" fill="#111" stroke="#111" stroke-width="0.12" textLength="11.00" lengthAdjust="spacingAndGlyphs" style="stroke-width:0.3">Days</text>
<text x="145.40" y="311.00" font-size="6.9" text-anchor="middle" fill="#111" stroke="#111" stroke-width="0.12" textLength="54.00" lengthAdjust="spacingAndGlyphs" transform="rotate(-90 145.40 311.00)" >Tumor volume (mm<tspan font-size="4" dy="-2.6">3</tspan><tspan dy="2.6">)</tspan></text>
<text x="158.10" y="277.50" font-size="7.4" text-anchor="start" fill="#000" font-weight="bold" stroke="#000" stroke-width="0.25" textLength="90.50" lengthAdjust="spacingAndGlyphs" >Elotuzumab-g2a + PD-1</text>
<text x="227.30" y="289.60" font-size="5.6" text-anchor="start" fill="#111" stroke="#111" stroke-width="0.12" textLength="8.90" lengthAdjust="spacingAndGlyphs" >8/9</text>
<text x="209.60" y="296.90" font-size="5.6" text-anchor="start" fill="#111" stroke="#111" stroke-width="0.12" textLength="26.60" lengthAdjust="spacingAndGlyphs" >tumor-free</text>
<text x="145.60" y="369.20" font-size="6.1" text-anchor="start" fill="#111" stroke="#111" stroke-width="0.12" textLength="32.30" lengthAdjust="spacingAndGlyphs" >mAb dosing</text>
<path d="M183.60,363.50 L186.30,369.30 L184.30,368.70 L184.30,371.40 L182.90,371.40 L182.90,368.70 L180.90,369.30 Z" fill="#000"/>
<path d="M189.00,363.50 L191.70,369.30 L189.70,368.70 L189.70,371.40 L188.30,371.40 L188.30,368.70 L186.30,369.30 Z" fill="#000"/>
<path d="M194.30,363.50 L197.00,369.30 L195.00,368.70 L195.00,371.40 L193.60,371.40 L193.60,368.70 L191.60,369.30 Z" fill="#000"/>
<polyline points="329.11,226.91 338.26,223.02 347.41,216.54 354.27,206.19 361.13,194.53" fill="none" stroke="#c6c6c6" stroke-width="1.45" stroke-linejoin="round" stroke-linecap="round" />
<polyline points="329.11,226.91 338.26,224.31 345.12,220.43 351.98,219.13 358.84,211.37 363.41,202.30 367.99,194.53" fill="none" stroke="#c6c6c6" stroke-width="1.45" stroke-linejoin="round" stroke-linecap="round" />
<polyline points="329.11,226.91 338.26,224.96 345.12,222.37 351.98,220.43 358.84,213.95 367.99,204.89 377.14,194.53" fill="none" stroke="#c6c6c6" stroke-width="1.45" stroke-linejoin="round" stroke-linecap="round" />
<polyline points="329.11,226.91 335.97,224.31 345.12,221.72 351.98,221.72 358.84,215.25 367.99,207.48 377.14,199.71" fill="none" stroke="#c6c6c6" stroke-width="1.45" stroke-linejoin="round" stroke-linecap="round" />
<polyline points="329.11,226.91 338.26,225.61 345.12,221.72 354.27,216.54 361.13,207.48 365.70,202.30" fill="none" stroke="#c6c6c6" stroke-width="1.45" stroke-linejoin="round" stroke-linecap="round" />
<polyline points="329.11,225.61 340.54,223.02 347.41,220.43 356.55,213.95 363.41,204.89 367.99,199.71" fill="none" stroke="#c6c6c6" stroke-width="1.45" stroke-linejoin="round" stroke-linecap="round" />
<polyline points="329.11,226.91 340.54,225.61 345.12,224.31 354.27,217.84 363.41,208.78 367.99,203.59" fill="none" stroke="#c6c6c6" stroke-width="1.45" stroke-linejoin="round" stroke-linecap="round" />
<polyline points="329.11,226.91 345.12,224.31 351.98,221.72 361.13,213.95 370.28,206.19 377.14,198.41" fill="none" stroke="#c6c6c6" stroke-width="1.45" stroke-linejoin="round" stroke-linecap="round" />
<line x1="313.10" y1="174.80" x2="313.10" y2="228.80" stroke="#000" stroke-width="1.3" />
<line x1="312.50" y1="228.20" x2="382.90" y2="228.20" stroke="#000" stroke-width="1.3" />
<line x1="310.30" y1="228.20" x2="313.10" y2="228.20" stroke="#000" stroke-width="1.1" />
<text x="307.30" y="230.40" font-size="6.2" text-anchor="end" fill="#111" stroke="#111" stroke-width="0.12" >0</text>
<line x1="310.30" y1="215.25" x2="313.10" y2="215.25" stroke="#000" stroke-width="1.1" />
<text x="307.30" y="217.45" font-size="6.2" text-anchor="end" fill="#111" stroke="#111" stroke-width="0.12" >1000</text>
<line x1="310.30" y1="202.30" x2="313.10" y2="202.30" stroke="#000" stroke-width="1.1" />
<text x="307.30" y="204.50" font-size="6.2" text-anchor="end" fill="#111" stroke="#111" stroke-width="0.12" >2000</text>
<line x1="310.30" y1="189.35" x2="313.10" y2="189.35" stroke="#000" stroke-width="1.1" />
<text x="307.30" y="191.55" font-size="6.2" text-anchor="end" fill="#111" stroke="#111" stroke-width="0.12" >3000</text>
<line x1="310.30" y1="176.40" x2="313.10" y2="176.40" stroke="#000" stroke-width="1.1" />
<text x="307.30" y="178.60" font-size="6.2" text-anchor="end" fill="#111" stroke="#111" stroke-width="0.12" >4000</text>
<line x1="313.10" y1="228.20" x2="313.10" y2="231.00" stroke="#000" stroke-width="1.1" />
<text x="313.10" y="239.00" font-size="6.2" text-anchor="middle" fill="#111" stroke="#111" stroke-width="0.12" >0</text>
<line x1="335.97" y1="228.20" x2="335.97" y2="231.00" stroke="#000" stroke-width="1.1" />
<text x="335.97" y="239.00" font-size="6.2" text-anchor="middle" fill="#111" stroke="#111" stroke-width="0.12" >10</text>
<line x1="358.84" y1="228.20" x2="358.84" y2="231.00" stroke="#000" stroke-width="1.1" />
<text x="358.84" y="239.00" font-size="6.2" text-anchor="middle" fill="#111" stroke="#111" stroke-width="0.12" >20</text>
<line x1="381.71" y1="228.20" x2="381.71" y2="231.00" stroke="#000" stroke-width="1.1" />
<text x="381.71" y="239.00" font-size="6.2" text-anchor="middle" fill="#111" stroke="#111" stroke-width="0.12" >30</text>
<text x="343.20" y="249.90" font-size="7.3" text-anchor="start" fill="#111" stroke="#111" stroke-width="0.12" textLength="11.00" lengthAdjust="spacingAndGlyphs" style="stroke-width:0.3">Days</text>
<text x="287.00" y="201.00" font-size="6.9" text-anchor="middle" fill="#111" stroke="#111" stroke-width="0.12" textLength="54.00" lengthAdjust="spacingAndGlyphs" transform="rotate(-90 287.00 201.00)" >Tumor volume (mm<tspan font-size="4" dy="-2.6">3</tspan><tspan dy="2.6">)</tspan></text>
<text x="337.90" y="168.90" font-size="5.9" text-anchor="start" fill="#000" font-weight="bold" stroke="#000" stroke-width="0.25" textLength="20.90" lengthAdjust="spacingAndGlyphs" >Control</text>
<text x="372.90" y="179.90" font-size="5.6" text-anchor="start" fill="#111" stroke="#111" stroke-width="0.12" textLength="8.40" lengthAdjust="spacingAndGlyphs" >1/9</text>
<text x="355.20" y="186.80" font-size="5.6" text-anchor="start" fill="#111" stroke="#111" stroke-width="0.12" textLength="26.70" lengthAdjust="spacingAndGlyphs" >tumor-free</text>
<text x="292.20" y="259.80" font-size="6.1" text-anchor="start" fill="#111" stroke="#111" stroke-width="0.12" textLength="31.00" lengthAdjust="spacingAndGlyphs" >mAb dosing</text>
<path d="M329.10,254.10 L331.80,259.90 L329.80,259.30 L329.80,262.00 L328.40,262.00 L328.40,259.30 L326.40,259.90 Z" fill="#000"/>
<path d="M335.70,254.10 L338.40,259.90 L336.40,259.30 L336.40,262.00 L335.00,262.00 L335.00,259.30 L333.00,259.90 Z" fill="#000"/>
<path d="M345.20,254.10 L347.90,259.90 L345.90,259.30 L345.90,262.00 L344.50,262.00 L344.50,259.30 L342.50,259.90 Z" fill="#000"/>
<polyline points="447.45,226.91 451.95,225.61 456.00,223.03 460.95,216.57 467.70,206.87 473.32,198.47 478.95,189.43" fill="none" stroke="#9c0f38" stroke-width="1.45" stroke-linejoin="round" stroke-linecap="round" />
<polyline points="447.45,226.26 454.20,224.97 458.70,224.32 461.85,223.03 464.77,215.66 469.50,198.34" fill="none" stroke="#9c0f38" stroke-width="1.45" stroke-linejoin="round" stroke-linecap="round" />
<polyline points="447.45,226.91 454.20,224.32 458.70,221.74 463.20,218.38 467.02,214.37 478.05,211.01 485.70,202.35" fill="none" stroke="#9c0f38" stroke-width="1.45" stroke-linejoin="round" stroke-linecap="round" />
<polyline points="447.45,226.91 458.70,225.61 467.70,223.03 476.70,217.86 485.70,208.81 494.25,196.53" fill="none" stroke="#9c0f38" stroke-width="1.45" stroke-linejoin="round" stroke-linecap="round" />
<polyline points="447.45,226.91 458.70,225.61 469.95,224.32 478.95,220.44 487.95,212.69 494.25,204.03" fill="none" stroke="#9c0f38" stroke-width="1.45" stroke-linejoin="round" stroke-linecap="round" />
<polyline points="447.45,226.91 458.70,225.61 469.95,224.32 478.95,219.80 487.95,213.34 494.25,206.36" fill="none" stroke="#9c0f38" stroke-width="1.45" stroke-linejoin="round" stroke-linecap="round" />
<polyline points="447.45,226.91 460.95,225.61 472.20,224.32 481.20,220.44 487.95,216.57 494.25,212.69" fill="none" stroke="#9c0f38" stroke-width="1.45" stroke-linejoin="round" stroke-linecap="round" />
<polyline points="447.45,225.61 454.20,223.03 460.95,224.32 467.70,225.61 472.20,226.91" fill="none" stroke="#9c0f38" stroke-width="1.45" stroke-linejoin="round" stroke-linecap="round" />
<polyline points="447.45,224.32 451.95,223.68 458.70,224.97 465.45,224.32 469.95,226.26" fill="none" stroke="#9c0f38" stroke-width="1.45" stroke-linejoin="round" stroke-linecap="round" />
<line x1="431.70" y1="174.90" x2="431.70" y2="228.80" stroke="#000" stroke-width="1.3" />
<line x1="431.10" y1="228.20" x2="501.70" y2="228.20" stroke="#000" stroke-width="1.3" />
<line x1="428.90" y1="228.20" x2="431.70" y2="228.20" stroke="#000" stroke-width="1.1" />
<text x="425.90" y="230.40" font-size="6.2" text-anchor="end" fill="#111" stroke="#111" stroke-width="0.12" >0</text>
<line x1="428.90" y1="215.27" x2="431.70" y2="215.27" stroke="#000" stroke-width="1.1" />
<text x="425.90" y="217.47" font-size="6.2" text-anchor="end" fill="#111" stroke="#111" stroke-width="0.12" >1000</text>
<line x1="428.90" y1="202.35" x2="431.70" y2="202.35" stroke="#000" stroke-width="1.1" />
<text x="425.90" y="204.55" font-size="6.2" text-anchor="end" fill="#111" stroke="#111" stroke-width="0.12" >2000</text>
<line x1="428.90" y1="189.43" x2="431.70" y2="189.43" stroke="#000" stroke-width="1.1" />
<text x="425.90" y="191.62" font-size="6.2" text-anchor="end" fill="#111" stroke="#111" stroke-width="0.12" >3000</text>
<line x1="428.90" y1="176.50" x2="431.70" y2="176.50" stroke="#000" stroke-width="1.1" />
<text x="425.90" y="178.70" font-size="6.2" text-anchor="end" fill="#111" stroke="#111" stroke-width="0.12" >4000</text>
<line x1="431.70" y1="228.20" x2="431.70" y2="231.00" stroke="#000" stroke-width="1.1" />
<text x="431.70" y="239.00" font-size="6.2" text-anchor="middle" fill="#111" stroke="#111" stroke-width="0.12" >0</text>
<line x1="454.20" y1="228.20" x2="454.20" y2="231.00" stroke="#000" stroke-width="1.1" />
<text x="454.20" y="239.00" font-size="6.2" text-anchor="middle" fill="#111" stroke="#111" stroke-width="0.12" >10</text>
<line x1="476.70" y1="228.20" x2="476.70" y2="231.00" stroke="#000" stroke-width="1.1" />
<text x="476.70" y="239.00" font-size="6.2" text-anchor="middle" fill="#111" stroke="#111" stroke-width="0.12" >20</text>
<line x1="499.20" y1="228.20" x2="499.20" y2="231.00" stroke="#000" stroke-width="1.1" />
<text x="499.20" y="239.00" font-size="6.2" text-anchor="middle" fill="#111" stroke="#111" stroke-width="0.12" >30</text>
<text x="461.50" y="250.20" font-size="7.3" text-anchor="start" fill="#111" stroke="#111" stroke-width="0.12" textLength="11.00" lengthAdjust="spacingAndGlyphs" style="stroke-width:0.3">Days</text>
<text x="406.00" y="201.00" font-size="6.9" text-anchor="middle" fill="#111" stroke="#111" stroke-width="0.12" textLength="54.00" lengthAdjust="spacingAndGlyphs" transform="rotate(-90 406.00 201.00)" >Tumor volume (mm<tspan font-size="4" dy="-2.6">3</tspan><tspan dy="2.6">)</tspan></text>
<text x="460.10" y="169.10" font-size="5.9" text-anchor="start" fill="#000" font-weight="bold" stroke="#000" stroke-width="0.25" textLength="13.00" lengthAdjust="spacingAndGlyphs" >PD-1</text>
<text x="483.30" y="179.70" font-size="5.6" text-anchor="start" fill="#111" stroke="#111" stroke-width="0.12" textLength="8.50" lengthAdjust="spacingAndGlyphs" >2/9</text>
<text x="465.90" y="186.80" font-size="5.6" text-anchor="start" fill="#111" stroke="#111" stroke-width="0.12" textLength="25.90" lengthAdjust="spacingAndGlyphs" >tumor-free</text>
<text x="410.10" y="259.50" font-size="6.1" text-anchor="start" fill="#111" stroke="#111" stroke-width="0.12" textLength="31.20" lengthAdjust="spacingAndGlyphs" >mAb dosing</text>
<path d="M446.70,253.80 L449.40,259.60 L447.40,259.00 L447.40,261.70 L446.00,261.70 L446.00,259.00 L444.00,259.60 Z" fill="#000"/>
<path d="M453.90,253.80 L456.60,259.60 L454.60,259.00 L454.60,261.70 L453.20,261.70 L453.20,259.00 L451.20,259.60 Z" fill="#000"/>
<path d="M462.90,253.80 L465.60,259.60 L463.60,259.00 L463.60,261.70 L462.20,261.70 L462.20,259.00 L460.20,259.60 Z" fill="#000"/>
<polyline points="329.11,335.62 340.54,333.05 351.98,329.19 358.84,320.18 367.99,304.72" fill="none" stroke="#67a443" stroke-width="1.45" stroke-linejoin="round" stroke-linecap="round" />
<polyline points="329.11,336.27 340.54,333.69 351.98,329.83 358.84,321.46 362.27,316.31 367.99,312.45" fill="none" stroke="#67a443" stroke-width="1.45" stroke-linejoin="round" stroke-linecap="round" />
<polyline points="329.11,336.91 340.54,334.34 347.41,333.05 351.98,335.62 358.84,331.76 367.99,324.04 377.14,313.74" fill="none" stroke="#67a443" stroke-width="1.45" stroke-linejoin="round" stroke-linecap="round" />
<polyline points="329.11,336.91 340.54,335.62 349.69,335.62 358.84,331.76 367.99,325.32 377.14,318.89" fill="none" stroke="#67a443" stroke-width="1.45" stroke-linejoin="round" stroke-linecap="round" />
<polyline points="329.11,336.91 345.12,331.76 351.98,336.91 358.84,334.34 367.99,331.76 377.14,320.18" fill="none" stroke="#67a443" stroke-width="1.45" stroke-linejoin="round" stroke-linecap="round" />
<polyline points="329.11,336.91 340.54,336.27 351.98,336.91 358.84,334.34 367.99,327.90 377.14,320.18" fill="none" stroke="#67a443" stroke-width="1.45" stroke-linejoin="round" stroke-linecap="round" />
<polyline points="329.11,336.91 340.54,336.91 351.98,337.56 361.13,338.20" fill="none" stroke="#67a443" stroke-width="1.45" stroke-linejoin="round" stroke-linecap="round" />
<line x1="313.10" y1="285.10" x2="313.10" y2="338.80" stroke="#000" stroke-width="1.3" />
<line x1="312.50" y1="338.20" x2="382.90" y2="338.20" stroke="#000" stroke-width="1.3" />
<line x1="310.30" y1="338.20" x2="313.10" y2="338.20" stroke="#000" stroke-width="1.1" />
<text x="307.30" y="340.40" font-size="6.2" text-anchor="end" fill="#111" stroke="#111" stroke-width="0.12" >0</text>
<line x1="310.30" y1="325.32" x2="313.10" y2="325.32" stroke="#000" stroke-width="1.1" />
<text x="307.30" y="327.52" font-size="6.2" text-anchor="end" fill="#111" stroke="#111" stroke-width="0.12" >1000</text>
<line x1="310.30" y1="312.45" x2="313.10" y2="312.45" stroke="#000" stroke-width="1.1" />
<text x="307.30" y="314.65" font-size="6.2" text-anchor="end" fill="#111" stroke="#111" stroke-width="0.12" >2000</text>
<line x1="310.30" y1="299.57" x2="313.10" y2="299.57" stroke="#000" stroke-width="1.1" />
<text x="307.30" y="301.77" font-size="6.2" text-anchor="end" fill="#111" stroke="#111" stroke-width="0.12" >3000</text>
<line x1="310.30" y1="286.70" x2="313.10" y2="286.70" stroke="#000" stroke-width="1.1" />
<text x="307.30" y="288.90" font-size="6.2" text-anchor="end" fill="#111" stroke="#111" stroke-width="0.12" >4000</text>
<line x1="313.10" y1="338.20" x2="313.10" y2="341.00" stroke="#000" stroke-width="1.1" />
<text x="313.10" y="349.00" font-size="6.2" text-anchor="middle" fill="#111" stroke="#111" stroke-width="0.12" >0</text>
<line x1="335.97" y1="338.20" x2="335.97" y2="341.00" stroke="#000" stroke-width="1.1" />
<text x="335.97" y="349.00" font-size="6.2" text-anchor="middle" fill="#111" stroke="#111" stroke-width="0.12" >10</text>
<line x1="358.84" y1="338.20" x2="358.84" y2="341.00" stroke="#000" stroke-width="1.1" />
<text x="358.84" y="349.00" font-size="6.2" text-anchor="middle" fill="#111" stroke="#111" stroke-width="0.12" >20</text>
<line x1="381.71" y1="338.20" x2="381.71" y2="341.00" stroke="#000" stroke-width="1.1" />
<text x="381.71" y="349.00" font-size="6.2" text-anchor="middle" fill="#111" stroke="#111" stroke-width="0.12" >30</text>
<text x="343.20" y="360.50" font-size="7.3" text-anchor="start" fill="#111" stroke="#111" stroke-width="0.12" textLength="11.00" lengthAdjust="spacingAndGlyphs" style="stroke-width:0.3">Days</text>
<text x="287.00" y="312.00" font-size="6.9" text-anchor="middle" fill="#111" stroke="#111" stroke-width="0.12" textLength="54.00" lengthAdjust="spacingAndGlyphs" transform="rotate(-90 287.00 312.00)" >Tumor volume (mm<tspan font-size="4" dy="-2.6">3</tspan><tspan dy="2.6">)</tspan></text>
<text x="316.70" y="277.90" font-size="7.4" text-anchor="start" fill="#000" font-weight="bold" stroke="#000" stroke-width="0.25" textLength="63.50" lengthAdjust="spacingAndGlyphs" >Elotuzumab-g2a</text>
<text x="372.90" y="291.70" font-size="5.6" text-anchor="start" fill="#111" stroke="#111" stroke-width="0.12" textLength="8.40" lengthAdjust="spacingAndGlyphs" >2/9</text>
<text x="354.90" y="298.60" font-size="5.6" text-anchor="start" fill="#111" stroke="#111" stroke-width="0.12" textLength="26.30" lengthAdjust="spacingAndGlyphs" >tumor-free</text>
<text x="292.20" y="369.70" font-size="6.1" text-anchor="start" fill="#111" stroke="#111" stroke-width="0.12" textLength="31.00" lengthAdjust="spacingAndGlyphs" >mAb dosing</text>
<path d="M329.10,364.00 L331.80,369.80 L329.80,369.20 L329.80,371.90 L328.40,371.90 L328.40,369.20 L326.40,369.80 Z" fill="#000"/>
<path d="M335.70,364.00 L338.40,369.80 L336.40,369.20 L336.40,371.90 L335.00,371.90 L335.00,369.20 L333.00,369.80 Z" fill="#000"/>
<path d="M345.20,364.00 L347.90,369.80 L345.90,369.20 L345.90,371.90 L344.50,371.90 L344.50,369.20 L342.50,369.80 Z" fill="#000"/>
<polyline points="447.15,335.81 453.90,334.52 462.90,331.94 469.65,326.77 478.65,319.01 485.40,312.55" fill="none" stroke="#2a3c64" stroke-width="1.45" stroke-linejoin="round" stroke-linecap="round" />
<polyline points="447.15,335.81 462.90,334.52 469.65,334.52 478.65,330.64 485.40,326.77 494.40,319.01" fill="none" stroke="#2a3c64" stroke-width="1.45" stroke-linejoin="round" stroke-linecap="round" />
<polyline points="447.15,335.81 462.90,335.17 469.65,335.81 478.65,334.52 485.40,331.94 494.40,325.47" fill="none" stroke="#2a3c64" stroke-width="1.45" stroke-linejoin="round" stroke-linecap="round" />
<polyline points="447.15,335.81 462.90,335.81 469.65,337.11 478.65,337.75 494.40,337.75" fill="none" stroke="#2a3c64" stroke-width="1.45" stroke-linejoin="round" stroke-linecap="round" />
<polyline points="447.15,335.17 453.90,335.17 462.90,335.56 469.65,336.46 478.65,337.11 485.40,337.37 494.40,337.62" fill="none" stroke="#2a3c64" stroke-width="1.45" stroke-linejoin="round" stroke-linecap="round" />
<polyline points="447.15,336.46 462.90,335.17 469.65,335.17 478.65,336.46 485.40,337.11 494.40,337.11" fill="none" stroke="#2a3c64" stroke-width="1.45" stroke-linejoin="round" stroke-linecap="round" />
<line x1="431.40" y1="285.10" x2="431.40" y2="339.00" stroke="#000" stroke-width="1.3" />
<line x1="430.80" y1="338.40" x2="501.70" y2="338.40" stroke="#000" stroke-width="1.3" />
<line x1="428.60" y1="338.40" x2="431.40" y2="338.40" stroke="#000" stroke-width="1.1" />
<text x="425.60" y="340.60" font-size="6.2" text-anchor="end" fill="#111" stroke="#111" stroke-width="0.12" >0</text>
<line x1="428.60" y1="325.47" x2="431.40" y2="325.47" stroke="#000" stroke-width="1.1" />
<text x="425.60" y="327.67" font-size="6.2" text-anchor="end" fill="#111" stroke="#111" stroke-width="0.12" >1000</text>
<line x1="428.60" y1="312.55" x2="431.40" y2="312.55" stroke="#000" stroke-width="1.1" />
<text x="425.60" y="314.75" font-size="6.2" text-anchor="end" fill="#111" stroke="#111" stroke-width="0.12" >2000</text>
<line x1="428.60" y1="299.62" x2="431.40" y2="299.62" stroke="#000" stroke-width="1.1" />
<text x="425.60" y="301.82" font-size="6.2" text-anchor="end" fill="#111" stroke="#111" stroke-width="0.12" >3000</text>
<line x1="428.60" y1="286.70" x2="431.40" y2="286.70" stroke="#000" stroke-width="1.1" />
<text x="425.60" y="288.90" font-size="6.2" text-anchor="end" fill="#111" stroke="#111" stroke-width="0.12" >4000</text>
<line x1="431.40" y1="338.40" x2="431.40" y2="341.20" stroke="#000" stroke-width="1.1" />
<text x="431.40" y="349.20" font-size="6.2" text-anchor="middle" fill="#111" stroke="#111" stroke-width="0.12" >0</text>
<line x1="453.90" y1="338.40" x2="453.90" y2="341.20" stroke="#000" stroke-width="1.1" />
<text x="453.90" y="349.20" font-size="6.2" text-anchor="middle" fill="#111" stroke="#111" stroke-width="0.12" >10</text>
<line x1="476.40" y1="338.40" x2="476.40" y2="341.20" stroke="#000" stroke-width="1.1" />
<text x="476.40" y="349.20" font-size="6.2" text-anchor="middle" fill="#111" stroke="#111" stroke-width="0.12" >20</text>
<line x1="498.90" y1="338.40" x2="498.90" y2="341.20" stroke="#000" stroke-width="1.1" />
<text x="498.90" y="349.20" font-size="6.2" text-anchor="middle" fill="#111" stroke="#111" stroke-width="0.12" >30</text>
<text x="461.50" y="360.30" font-size="7.3" text-anchor="start" fill="#111" stroke="#111" stroke-width="0.12" textLength="11.00" lengthAdjust="spacingAndGlyphs" style="stroke-width:0.3">Days</text>
<text x="406.00" y="312.00" font-size="6.9" text-anchor="middle" fill="#111" stroke="#111" stroke-width="0.12" textLength="54.00" lengthAdjust="spacingAndGlyphs" transform="rotate(-90 406.00 312.00)" >Tumor volume (mm<tspan font-size="4" dy="-2.6">3</tspan><tspan dy="2.6">)</tspan></text>
<text x="421.10" y="278.10" font-size="7.4" text-anchor="start" fill="#000" font-weight="bold" stroke="#000" stroke-width="0.25" textLength="90.50" lengthAdjust="spacingAndGlyphs" >Elotuzumab-g2a + PD-1</text>
<text x="480.90" y="291.40" font-size="5.6" text-anchor="start" fill="#111" stroke="#111" stroke-width="0.12" textLength="8.20" lengthAdjust="spacingAndGlyphs" >5/9</text>
<text x="462.90" y="298.80" font-size="5.6" text-anchor="start" fill="#111" stroke="#111" stroke-width="0.12" textLength="26.80" lengthAdjust="spacingAndGlyphs" >tumor-free</text>
<text x="410.10" y="369.50" font-size="6.1" text-anchor="start" fill="#111" stroke="#111" stroke-width="0.12" textLength="31.20" lengthAdjust="spacingAndGlyphs" >mAb dosing</text>
<path d="M446.50,363.80 L449.20,369.60 L447.20,369.00 L447.20,371.70 L445.80,371.70 L445.80,369.00 L443.80,369.60 Z" fill="#000"/>
<path d="M453.50,363.80 L456.20,369.60 L454.20,369.00 L454.20,371.70 L452.80,371.70 L452.80,369.00 L450.80,369.60 Z" fill="#000"/>
<path d="M462.60,363.80 L465.30,369.60 L463.30,369.00 L463.30,371.70 L461.90,371.70 L461.90,369.00 L459.90,369.60 Z" fill="#000"/>
<text x="103.80" y="159.80" font-size="8" text-anchor="start" fill="#000" font-weight="bold" stroke="#000" stroke-width="0.25" textLength="82.70" lengthAdjust="spacingAndGlyphs" >A20-hSLAMF7 model</text>
<text x="366.20" y="159.90" font-size="8" text-anchor="start" fill="#000" font-weight="bold" stroke="#000" stroke-width="0.25" textLength="83.20" lengthAdjust="spacingAndGlyphs" >EG7-hSLAMF7 model</text>
<polyline points="175.60,405.70 222.53,405.70 222.53,413.08 236.78,413.08 236.78,420.46 250.64,420.46 250.64,427.84 257.18,427.84 257.18,435.23 262.92,435.23 262.92,435.23" fill="none" stroke="#9e1038" stroke-width="1.3" stroke-linejoin="round" stroke-linecap="round" stroke-linecap="butt" stroke-linejoin="miter"/>
<polyline points="175.60,405.70 223.12,405.70 223.12,420.46 231.04,420.46 231.04,442.67 236.98,442.67 236.98,464.82 256.38,464.82 256.38,472.20" fill="none" stroke="#c8c8c8" stroke-width="1.3" stroke-linejoin="round" stroke-linecap="round" stroke-linecap="butt" stroke-linejoin="miter"/>
<polyline points="175.60,405.70 250.64,405.70 250.64,413.08 262.92,413.08 262.92,413.08" fill="none" stroke="#2b3a60" stroke-width="1.3" stroke-linejoin="round" stroke-linecap="round" stroke-linecap="butt" stroke-linejoin="miter"/>
<polyline points="175.60,405.70 230.84,405.70 230.84,413.08 236.78,413.08 236.78,427.84 242.72,427.84 242.72,435.23 262.92,435.23 262.92,457.44" fill="none" stroke="#629a42" stroke-width="1.3" stroke-linejoin="round" stroke-linecap="round" stroke-linecap="butt" stroke-linejoin="miter"/>
<circle cx="223.12" cy="420.46" r="1.1" fill="#c8c8c8"/>
<circle cx="231.04" cy="442.67" r="1.1" fill="#c8c8c8"/>
<circle cx="236.98" cy="464.82" r="1.1" fill="#c8c8c8"/>
<circle cx="222.53" cy="413.08" r="1.1" fill="#9e1038"/>
<circle cx="236.78" cy="420.46" r="1.1" fill="#9e1038"/>
<circle cx="250.64" cy="427.84" r="1.1" fill="#9e1038"/>
<circle cx="257.18" cy="435.23" r="1.1" fill="#9e1038"/>
<circle cx="230.84" cy="413.08" r="1.1" fill="#629a42"/>
<circle cx="236.78" cy="427.84" r="1.1" fill="#629a42"/>
<circle cx="262.92" cy="435.23" r="1.1" fill="#629a42"/>
<circle cx="262.92" cy="457.44" r="1.1" fill="#629a42"/>
<circle cx="250.64" cy="413.08" r="1.1" fill="#2b3a60"/>
<circle cx="262.92" cy="413.08" r="1.1" fill="#2b3a60"/>
<line x1="175.60" y1="404.20" x2="175.60" y2="472.80" stroke="#000" stroke-width="1.3" />
<line x1="175.00" y1="472.20" x2="276.50" y2="472.20" stroke="#000" stroke-width="1.3" />
<line x1="172.90" y1="472.20" x2="175.60" y2="472.20" stroke="#000" stroke-width="0.9" />
<text x="169.90" y="474.30" font-size="5.9" text-anchor="end" fill="#111" stroke="#111" stroke-width="0.12" >0</text>
<line x1="172.90" y1="458.90" x2="175.60" y2="458.90" stroke="#000" stroke-width="0.9" />
<text x="169.90" y="461.00" font-size="5.9" text-anchor="end" fill="#111" stroke="#111" stroke-width="0.12" >20</text>
<line x1="172.90" y1="445.60" x2="175.60" y2="445.60" stroke="#000" stroke-width="0.9" />
<text x="169.90" y="447.70" font-size="5.9" text-anchor="end" fill="#111" stroke="#111" stroke-width="0.12" >40</text>
<line x1="172.90" y1="432.30" x2="175.60" y2="432.30" stroke="#000" stroke-width="0.9" />
<text x="169.90" y="434.40" font-size="5.9" text-anchor="end" fill="#111" stroke="#111" stroke-width="0.12" >60</text>
<line x1="172.90" y1="419.00" x2="175.60" y2="419.00" stroke="#000" stroke-width="0.9" />
<text x="169.90" y="421.10" font-size="5.9" text-anchor="end" fill="#111" stroke="#111" stroke-width="0.12" >80</text>
<line x1="172.90" y1="405.70" x2="175.60" y2="405.70" stroke="#000" stroke-width="0.9" />
<text x="169.90" y="407.80" font-size="5.9" text-anchor="end" fill="#111" stroke="#111" stroke-width="0.12" >100</text>
<line x1="175.60" y1="472.20" x2="175.60" y2="474.80" stroke="#000" stroke-width="0.9" />
<text x="175.60" y="483.60" font-size="6.2" text-anchor="middle" fill="#111" stroke="#111" stroke-width="0.12" >0</text>
<line x1="195.40" y1="472.20" x2="195.40" y2="474.80" stroke="#000" stroke-width="0.9" />
<text x="195.40" y="483.60" font-size="6.2" text-anchor="middle" fill="#111" stroke="#111" stroke-width="0.12" >10</text>
<line x1="215.20" y1="472.20" x2="215.20" y2="474.80" stroke="#000" stroke-width="0.9" />
<text x="215.20" y="483.60" font-size="6.2" text-anchor="middle" fill="#111" stroke="#111" stroke-width="0.12" >20</text>
<line x1="235.00" y1="472.20" x2="235.00" y2="474.80" stroke="#000" stroke-width="0.9" />
<text x="235.00" y="483.60" font-size="6.2" text-anchor="middle" fill="#111" stroke="#111" stroke-width="0.12" >30</text>
<line x1="254.80" y1="472.20" x2="254.80" y2="474.80" stroke="#000" stroke-width="0.9" />
<text x="254.80" y="483.60" font-size="6.2" text-anchor="middle" fill="#111" stroke="#111" stroke-width="0.12" >40</text>
<line x1="274.60" y1="472.20" x2="274.60" y2="474.80" stroke="#000" stroke-width="0.9" />
<text x="274.60" y="483.60" font-size="6.2" text-anchor="middle" fill="#111" stroke="#111" stroke-width="0.12" >50</text>
<text x="221.10" y="494.60" font-size="7.3" text-anchor="start" fill="#111" stroke="#111" stroke-width="0.12" textLength="11.00" lengthAdjust="spacingAndGlyphs" style="stroke-width:0.3">Days</text>
<text x="154.20" y="437.60" font-size="7.0" text-anchor="middle" fill="#111" stroke="#111" stroke-width="0.12" textLength="29.90" lengthAdjust="spacingAndGlyphs" transform="rotate(-90 154.20 437.60)" >Survival (%)</text>
<line x1="283.40" y1="407.20" x2="291.40" y2="407.20" stroke="#c8c8c8" stroke-width="1.3" />
<circle cx="287.4" cy="407.20" r="1.3" fill="#c8c8c8"/>
<text x="293.90" y="409.30" font-size="5.8" text-anchor="start" fill="#111" stroke="#111" stroke-width="0.12" textLength="18.60" lengthAdjust="spacingAndGlyphs" >Control</text>
<line x1="283.40" y1="414.77" x2="291.40" y2="414.77" stroke="#9e1038" stroke-width="1.3" />
<circle cx="287.4" cy="414.77" r="1.3" fill="#9e1038"/>
<text x="293.90" y="416.87" font-size="5.8" text-anchor="start" fill="#111" stroke="#111" stroke-width="0.12" textLength="13.00" lengthAdjust="spacingAndGlyphs" >PD-1</text>
<line x1="283.40" y1="422.34" x2="291.40" y2="422.34" stroke="#629a42" stroke-width="1.3" />
<circle cx="287.4" cy="422.34" r="1.3" fill="#629a42"/>
<text x="293.90" y="424.44" font-size="5.8" text-anchor="start" fill="#111" stroke="#111" stroke-width="0.12" textLength="41.80" lengthAdjust="spacingAndGlyphs" >Elotuzumab-g2a</text>
<line x1="283.40" y1="429.91" x2="291.40" y2="429.91" stroke="#2b3a60" stroke-width="1.3" />
<circle cx="287.4" cy="429.91" r="1.3" fill="#2b3a60"/>
<text x="293.90" y="432.01" font-size="5.8" text-anchor="start" fill="#111" stroke="#111" stroke-width="0.12" textLength="61.20" lengthAdjust="spacingAndGlyphs" >Elotuzumab-g2a + PD-1</text>
<line x1="351.50" y1="404.30" x2="351.50" y2="413.40" stroke="#111" stroke-width="1.1" />
<text x="353.20" y="412.80" font-size="5.6" text-anchor="start" fill="#111" font-weight="bold" stroke="#111" stroke-width="0.25" >**</text>
<line x1="360.50" y1="404.30" x2="360.50" y2="421.10" stroke="#111" stroke-width="1.1" />
<text x="362.10" y="415.00" font-size="5.6" text-anchor="start" fill="#111" font-weight="bold" stroke="#111" stroke-width="0.25" >**</text>
<line x1="367.50" y1="404.30" x2="367.50" y2="429.70" stroke="#111" stroke-width="1.1" />
<text x="369.80" y="419.40" font-size="5.6" text-anchor="start" fill="#111" font-weight="bold" stroke="#111" stroke-width="0.25" >***</text>
<line x1="384.50" y1="418.70" x2="384.50" y2="428.60" stroke="#111" stroke-width="1.1" />
<text x="385.90" y="427.10" font-size="5.6" text-anchor="start" fill="#111" font-weight="bold" stroke="#111" stroke-width="0.25" >**</text>
<rect x="0.5" y="0.5" width="519" height="503" fill="none" stroke="#000" stroke-width="1"/>
</svg>
</body></html>
